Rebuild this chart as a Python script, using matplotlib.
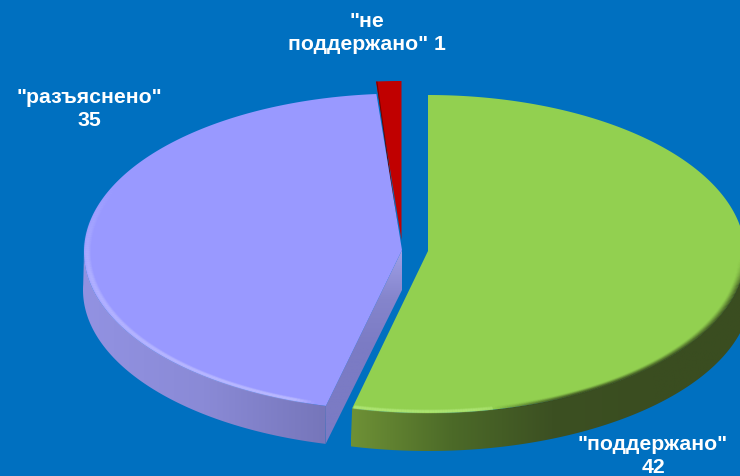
import numpy as np
import matplotlib.pyplot as plt
from matplotlib.patches import Polygon
from matplotlib.collections import LineCollection
from matplotlib.colors import LinearSegmentedColormap, to_rgb

labels = ['"поддержано"\n42', '"разъяснено"\n35', '"не\nподдержано" 1']
values = [42, 35, 1]
colors = ['#92D050', '#9999FF', '#C00000']

plt.rcParams['font.family'] = ['Liberation Sans', 'DejaVu Sans']
bg = '#0070C0'

fig = plt.figure(figsize=(7.4, 4.76), dpi=100, facecolor=bg)
ax = fig.add_axes([0, 0, 1, 1])
ax.set_xlim(0, 740)
ax.set_ylim(476, 0)
ax.axis('off')

# slice angles, clockwise from 12 o'clock
edges = np.cumsum([0] + values) / sum(values) * 360


def ell(a, cx, cy, rx, ry):
    a = np.radians(a)
    return np.c_[cx + rx * np.sin(a), cy - ry * np.cos(a)]


def gradient(poly, stops, vertical=False, z=2):
    cmap = LinearSegmentedColormap.from_list('g', stops)
    g = np.linspace(0, 1, 256).reshape(1, -1)
    x0, y0 = poly.min(axis=0)
    x1, y1 = poly.max(axis=0)
    if vertical:
        g = g.T[::-1]
    im = ax.imshow(g, cmap=cmap, extent=[x0, x1, y1, y0], aspect='auto', zorder=z)
    patch = Polygon(poly, closed=True, transform=ax.transData, fc='none', ec='none')
    ax.add_patch(patch)
    im.set_clip_path(patch)
    ax.set_xlim(0, 740)
    ax.set_ylim(476, 0)


def rim(a, geo, col_fn, steps=8, step=0.0032, z=5):
    # soft strip along the inside of the top edge
    cx, cy, rx, ry = geo
    for k in range(steps):
        s = 1 - k * step
        p = ell(a, cx, cy, rx * s, ry * s)
        segs = np.stack([p[:-1], p[1:]], axis=1)
        cols = [col_fn((a[i] + a[i + 1]) / 2, k / (steps - 1)) for i in range(len(a) - 1)]
        ax.add_collection(LineCollection(segs, colors=cols, linewidths=1.0, zorder=z, capstyle='butt'))


green = (428, 254, 317, 159)
green_low = (428, 292, 323, 159)
purple = (402, 252, 318, 158.5)
purple_low = (402, 290, 319, 158.5)
red = (401.5, 240, 318, 159)
green_apex = (428, 251)
purple_apex = (402, 250)
red_apex = (401.5, 240)

# red slice sits at the back
a = np.linspace(edges[2], edges[3], 20)
ax.add_patch(Polygon(np.vstack([ell(a, *red), red_apex]), closed=True, fc=colors[2], ec='none', zorder=1))

# purple side
a = np.linspace(edges[1], 272, 120)
side = np.vstack([ell(a, *purple), ell(a[::-1], *purple_low)])
gradient(side, ['#9292E2', '#8A8AD6', '#7676BA'], z=2)

# purple cut face
corner = ell(edges[1], *purple)[0]
corner_low = ell(edges[1], *purple_low)[0]
face = np.array([purple_apex, (purple_apex[0], purple_apex[1] + 40), corner_low, corner])
gradient(face, ['#7B7BC4', '#7B7BC4', '#7B7BC4', '#8585CC', '#A0A0E8'], vertical=True, z=3)

# purple top
a = np.linspace(edges[1], edges[2], 200)
ax.add_patch(Polygon(np.vstack([ell(a, *purple), purple_apex]), closed=True, fc=colors[1], ec='none', zorder=4))


def purple_rim(t, f):
    w = np.clip((t - 196) / 4, 0, 1) * np.clip((295 - t) / 35, 0, 1)
    return (*to_rgb('#C8C8FF'), 0.42 * w * np.sin(np.pi * (f * 0.9 + 0.1)))


rim(np.linspace(edges[1] + 0.3, 295, 150), purple, purple_rim)

# dark seam between red and purple
seam = np.vstack([ell(edges[2], *purple)[0] + [0.5, -12], [397, 225]])
ax.plot(seam[:, 0], seam[:, 1], color='#700000', lw=0.7, zorder=3.5)

# green side
a = np.linspace(90, edges[1], 160)
side = np.vstack([ell(a, *green), ell(a[::-1], *green_low)])
gradient(side, ['#3A4D20', '#3A4D20', '#3C5022', '#4C6A28', '#6E9136'][::-1], z=6)

# green top
a = np.linspace(edges[0], edges[1], 300)
ax.add_patch(Polygon(np.vstack([ell(a, *green), green_apex]), closed=True, fc=colors[0], ec='none', zorder=7))


def green_rim(t, f):
    dark = np.clip((t - 92) / 10, 0, 1) * np.clip((168 - t) / 16, 0, 1)
    light = np.clip((t - 162) / 10, 0, 1)
    if dark > 0:
        return (*to_rgb('#3A4D20'), dark * 0.8 * (1 - f) ** 1.5)
    return (*to_rgb('#B8EE80'), 0.42 * light * np.sin(np.pi * (f * 0.9 + 0.1)))


rim(np.linspace(92, edges[1] - 0.2, 220), green, green_rim, z=8)

ax.text(653, 456, labels[0], color='white', fontsize=15.3, fontweight='bold', ha='center', va='center', linespacing=1.27, zorder=10)
ax.text(89, 109, labels[1], color='white', fontsize=15.3, fontweight='bold', ha='center', va='center', linespacing=1.27, zorder=10)
ax.text(367, 33, labels[2], color='white', fontsize=15.3, fontweight='bold', ha='center', va='center', linespacing=1.27, zorder=10)

fig.savefig('out.png', dpi=100, facecolor=bg)
